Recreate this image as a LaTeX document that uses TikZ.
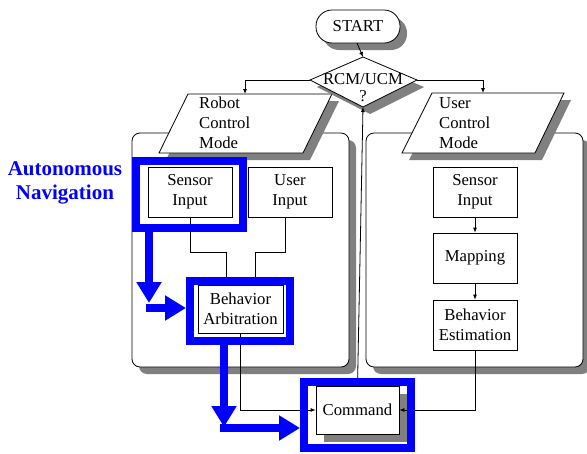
\documentclass[tikz,border=0pt]{standalone}
\usepackage{fontspec}
\setmainfont{Liberation Serif}
\usetikzlibrary{arrows.meta}
\begin{document}
\begin{tikzpicture}[x=1pt,y=-1pt,
  conn/.style={line width=0.8pt},
  arr/.style={conn,-{Latex[length=5pt,width=4pt]}},
  box/.style={draw,fill=white,line width=0.8pt,inner sep=0pt,align=center,font=\rmfamily\fontsize{16.7}{20}\selectfont,minimum width=84pt,minimum height=50pt},
  lbl/.style={font=\rmfamily\fontsize{16.7}{20}\selectfont,align=left,inner sep=0pt},
  shade/.style={fill=gray},
  bluebox/.style={draw=blue,line width=8pt,inner sep=0pt},
  bluearrow/.style={draw=blue,line width=7.5pt,-{Triangle[width=24pt,length=21pt]}}
]
\useasboundingbox (0,0) rectangle (587,453);

% panels
\fill[shade,rounded corners=8pt] (139,140) rectangle (356,374);
\draw[conn,fill=white,rounded corners=8pt] (132,133) rectangle (349,367);
\fill[shade,rounded corners=8pt] (373,140) rectangle (590,374);
\draw[conn,fill=white,rounded corners=8pt] (366,133) rectangle (583,367);

% parallelograms
\fill[shade] (195,101) -- (339,101) -- (310,160) -- (166,160) -- cycle;
\draw[conn,fill=white] (188,94) -- (332,94) -- (303,153) -- (159,153) -- cycle;
\coordinate (rcmin) at (245,94);
\node[lbl,anchor=west] (rcm) at (199,123) {Robot\\Control\\Mode};

\fill[shade] (439,100) -- (571,100) -- (542,160) -- (409,160) -- cycle;
\draw[conn,fill=white] (432,93) -- (564,93) -- (535,153) -- (402,153) -- cycle;
\coordinate (ucmin) at (483,93);
\node[lbl,anchor=west] (ucm) at (439,123) {User\\Control\\Mode};

% start
\fill[shade,rounded corners=16pt] (323,17) rectangle (407,50);
\draw[conn,fill=white,rounded corners=16pt] (316,10) rectangle (400,43);
\node[font=\rmfamily\fontsize{16.7}{20}\selectfont] (start) at (358,26.5) {START};
\coordinate (startout) at (357,43);

% decision
\fill[shade] (317,87) -- (370,64) -- (424,87) -- (370,114) -- cycle;
\draw[conn,fill=white] (310,80) coordinate (dw) -- (363,57) coordinate (dn) -- (417,80) coordinate (de) -- (363,107) coordinate (ds) -- cycle;
\node[font=\rmfamily\fontsize{16.7}{17}\selectfont,align=center,inner sep=0pt] (rcmucm) at (363,88) {RCM/UCM\\?};

% boxes
\node[box] (s1) at (190,192) {Sensor\\Input};
\node[box] (u1) at (290,192) {User\\Input};
\node[box,minimum width=85pt,minimum height=48pt] (ba) at (240.5,309) {Behavior\\Arbitration};
\node[box] (s2) at (475,192) {Sensor\\Input};
\node[box] (mp) at (475,258) {Mapping};
\node[box] (be) at (475,325) {Behavior\\Estimation};
\fill[shade] (324,394) rectangle (407,442);
\node[box,minimum width=83pt,minimum height=48pt] (cmd) at (357.5,410) {Command};

% connectors
\draw[arr] (startout) -- (dn);
\draw[arr] (dw) -| (rcmin);
\draw[arr] (de) -| (ucmin);
\draw[conn] (s1.south) -- ++(0,35) -| ([xshift=-14.5pt]ba.north);
\draw[conn] ([xshift=-5pt]u1.south) -- ++(0,35) -| ([xshift=14.5pt]ba.north);
\draw[arr] (ba.south) |- (cmd.west);
\draw[arr] (be.south) |- (cmd.east);
\draw[arr] (cmd.north) -- (ds);
\draw[arr] (s2) -- (mp);
\draw[arr] (mp) -- (be);

% blue highlights
\node[bluebox,minimum width=107pt,minimum height=67pt] (f1) at (189.5,194.5) {};
\node[bluebox,minimum width=100pt,minimum height=60pt] (f2) at (240,311) {};
\node[bluebox,minimum width=107pt,minimum height=66pt] (f3) at (357.5,415) {};
\coordinate (bend1) at (145.5,308);
\coordinate (bend2) at (220,428);
\draw[bluearrow] ([xshift=-40.5pt]f1.south) -- ++(0,71);
\draw[bluearrow] (bend1) -- ([yshift=3pt]f2.west);
\draw[bluearrow] ([xshift=-16pt]f2.south) -- ++(0,82);
\draw[bluearrow] (bend2) -- ([yshift=-13pt]f3.west);

\node[font=\rmfamily\bfseries\fontsize{21}{24}\selectfont,text=blue,align=center] (auto) at (65,183) {Autonomous\\Navigation};
\end{tikzpicture}
\end{document}
